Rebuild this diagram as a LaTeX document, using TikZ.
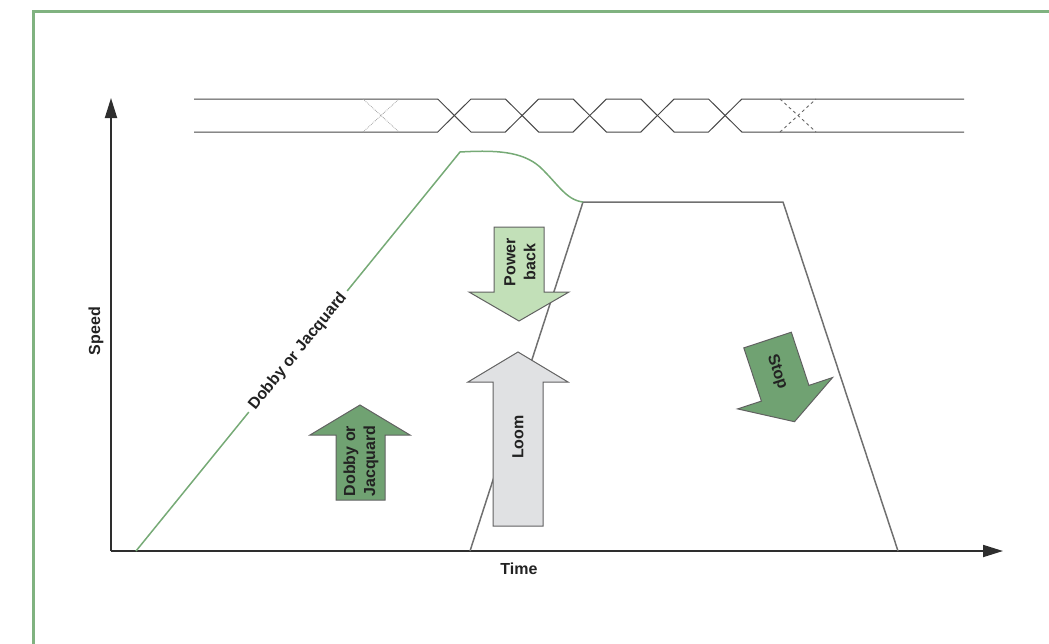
\documentclass[tikz,border=0pt]{standalone}
\usepackage{fontspec}
\setmainfont{Liberation Sans}
\usetikzlibrary{arrows.meta}
\definecolor{framegreen}{RGB}{128,178,128}
\definecolor{curvegreen}{RGB}{118,170,118}
\definecolor{darkarrow}{RGB}{112,162,114}
\definecolor{lightarrow}{RGB}{194,224,184}
\definecolor{loomfill}{RGB}{224,225,227}
\definecolor{loomline}{RGB}{112,112,112}
\definecolor{txt}{RGB}{34,34,34}
\begin{document}
\begin{tikzpicture}[x=1pt,y=-1pt,
  lbl/.style={font=\fontsize{16}{20}\selectfont\bfseries, text=txt, inner sep=1pt, align=center},
  bigarrow/.style={draw=black!62, line width=1pt, line join=miter},
  sig/.style={draw=black!72, line width=1pt},
  axis/.style={draw=black!82, line width=1.8pt, -{Triangle[length=20pt,width=12pt]}}]
\useasboundingbox (0,0) rectangle (1049,643);
% frame
\draw[framegreen, line width=3pt] (33,700) -- (33,11) -- (1100,11);

% signal lines
\draw[sig] (194,99) -- (437.7,99) -- (471,132) -- (505.4,132) -- (538.7,99) -- (573.1,99) -- (606.4,132) -- (640.8,132) -- (674.1,99) -- (708.5,99) -- (741.8,132) -- (964,132);
\draw[sig] (194,132) -- (437.7,132) -- (471,99) -- (505.4,99) -- (538.7,132) -- (573.1,132) -- (606.4,99) -- (640.8,99) -- (674.1,132) -- (708.5,132) -- (741.8,99) -- (964,99);
\draw[black!35, densely dotted, line width=0.8pt] (363,99) -- (399,132) (363,132) -- (399,99);
\draw[black!60, dashed, line width=0.9pt] (780,99) -- (816,132) (780,132) -- (816,99);

% axes
\coordinate (O) at (111,551);
\coordinate (Ytip) at (111,98);
\coordinate (Xtip) at (1003,551);
\draw[axis] (O) -- (Ytip);
\draw[axis] (O) -- (Xtip);
\node[lbl, rotate=90] (speed) at (96,331) {Speed};
\node[lbl] (time) at (519,569) {Time};

% loom speed profile
\coordinate (L0) at (470,551);
\coordinate (L1) at (583,202);
\coordinate (L2) at (783,202);
\coordinate (L3) at (898,551);
\draw[loomline, line width=1.5pt, line join=round] (L0) -- (L1) -- (L2) -- (L3);

% dobby / jacquard profile
\coordinate (D0) at (136,551);
\coordinate (D1) at (460,152);
\draw[curvegreen, line width=1.5pt, line join=round] (D0) -- node[lbl, sloped, fill=white, inner xsep=5pt, inner ysep=2pt] (dj) {Dobby or Jacquard} (D1)
  .. controls (495,150) and (522,151) .. (540,167)
  .. controls (558,184) and (566,200) .. (L1);

% Power back arrow (down)
\draw[bigarrow, fill=lightarrow] (494,227) -- (544,227) -- (544,292) -- (569,292) -- (519,321) -- (469,292) -- (494,292) -- cycle;
\node[lbl, rotate=90] (pb) at (520,262) {Power\\back};

% Loom arrow (up)
\draw[bigarrow, fill=loomfill] (493,526) -- (543,526) -- (543,382) -- (568,382) -- (518,352) -- (468,382) -- (493,382) -- cycle;
\node[lbl, rotate=90] (loom) at (518,437) {Loom};

% Dobby or Jacquard arrow (up)
\draw[bigarrow, fill=darkarrow] (336,500) -- (385,500) -- (385,435) -- (410,435) -- (360,405) -- (310,435) -- (336,435) -- cycle;
\node[lbl, rotate=90] (dja) at (361,461) {Dobby or\\Jacquard};

% Stop arrow (tilted down)
\draw[bigarrow, fill=darkarrow] (743.8,347.9) -- (791.3,332.2) -- (808.9,385.4) -- (832.6,377.5) -- (794.5,421.7) -- (737.6,408.9) -- (761.4,401.1) -- cycle;
\node[lbl, rotate=-71.7] (stop) at (777,372) {Stop};
\end{tikzpicture}
\end{document}
